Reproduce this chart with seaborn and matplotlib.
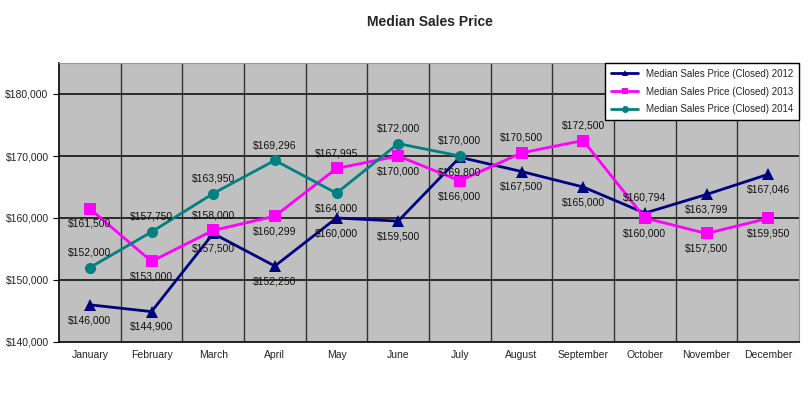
import pandas as pd
import seaborn as sns
import matplotlib.pyplot as plt
from matplotlib.ticker import FuncFormatter

months = ['January', 'February', 'March', 'April', 'May', 'June', 'July',
          'August', 'September', 'October', 'November', 'December']
p2012 = [146000, 144900, 157500, 152250, 160000, 159500, 169800,
         167500, 165000, 160794, 163799, 167046]
p2013 = [161500, 153000, 158000, 160299, 167995, 170000, 166000,
         170500, 172500, 160000, 157500, 159950]
p2014 = [152000, 157750, 163950, 169296, 164000, 172000, 170000]
names = ['Median Sales Price (Closed) 2012',
         'Median Sales Price (Closed) 2013',
         'Median Sales Price (Closed) 2014']

# label placement: 1 above, -1 below
side2012 = [-1, -1, -1, -1, -1, -1, -1, -1, -1, 1, -1, -1]
side2013 = [-1, -1, 1, -1, 1, -1, -1, 1, 1, -1, -1, -1]
side2014 = [1, 1, 1, 1, -1, 1, 1]

rows = []
for name, vals in zip(names, [p2012, p2013, p2014]):
    for m, v in zip(months, vals):
        rows.append({'Month': m, 'Price': v, 'Series': name})
d = pd.DataFrame(rows)

sns.set_style('white')
plt.rcParams['font.family'] = ['Liberation Sans', 'DejaVu Sans']

fig = plt.figure(figsize=(8.1, 3.99), dpi=100)
ax = fig.add_axes([59 / 810, 1 - 342 / 399, 740 / 810, 279 / 399])
ax.set_facecolor('#c0c0c0')

colors = {names[0]: '#000080', names[1]: '#ff00ff', names[2]: '#008080'}
markers = {names[0]: '^', names[1]: 's', names[2]: 'o'}
sns.lineplot(data=d, x='Month', y='Price', hue='Series', style='Series',
             palette=colors, markers=markers, dashes=False, linewidth=2,
             markersize=8, markeredgewidth=0, ax=ax, zorder=3)

for vals, sides in [(p2012, side2012), (p2013, side2013), (p2014, side2014)]:
    for i, (v, s) in enumerate(zip(vals, sides)):
        ax.annotate('${:,}'.format(v), (i, v), xytext=(0, 11 * s),
                    textcoords='offset points', ha='center', va='center',
                    fontsize=7.5, color='#111111', zorder=4)

ax.set_xlim(-0.5, 11.5)
ax.set_ylim(140000, 185000)
ax.set_yticks([140000, 150000, 160000, 170000, 180000])
ax.yaxis.set_major_formatter(FuncFormatter(lambda v, p: '${:,.0f}'.format(v)))
ax.set_xticks(range(12))
ax.set_xticklabels(months)
ax.set_xticks([i + 0.5 for i in range(-1, 12)], minor=True)
ax.tick_params(axis='x', which='major', length=0, labelsize=7.5, pad=6,
               labelcolor='#222222')
ax.tick_params(axis='x', which='minor', length=4, color='black')
ax.tick_params(axis='y', length=4, labelsize=7.5, color='black', left=True,
               labelcolor='#222222')
ax.grid(False)
for y in [150000, 160000, 170000, 180000]:
    ax.axhline(y, color='#111111', lw=1.2, zorder=1)
for x in range(11):
    ax.axvline(x + 0.5, color='#333333', lw=1.0, zorder=1)
for s in ax.spines.values():
    s.set_color('#999999')
ax.spines['bottom'].set_color('black')
ax.spines['left'].set_color('black')
ax.spines['bottom'].set_linewidth(1.2)
ax.spines['left'].set_linewidth(1.2)
ax.set_xlabel('')
ax.set_ylabel('')

leg = ax.legend(loc='upper right', fontsize=7, frameon=True, fancybox=False,
                borderaxespad=0, handlelength=2.8, labelspacing=0.8,
                borderpad=0.6)
leg.get_frame().set_edgecolor('black')
leg.get_frame().set_facecolor('white')
leg.get_frame().set_alpha(1)
for h in leg.legend_handles:
    h.set_markersize(5)

fig.text(430 / 810, 1 - 22 / 399, 'Median Sales Price', ha='center',
         va='center', fontsize=10, fontweight='bold')
fig.savefig('out.png', dpi=100, facecolor='white')
